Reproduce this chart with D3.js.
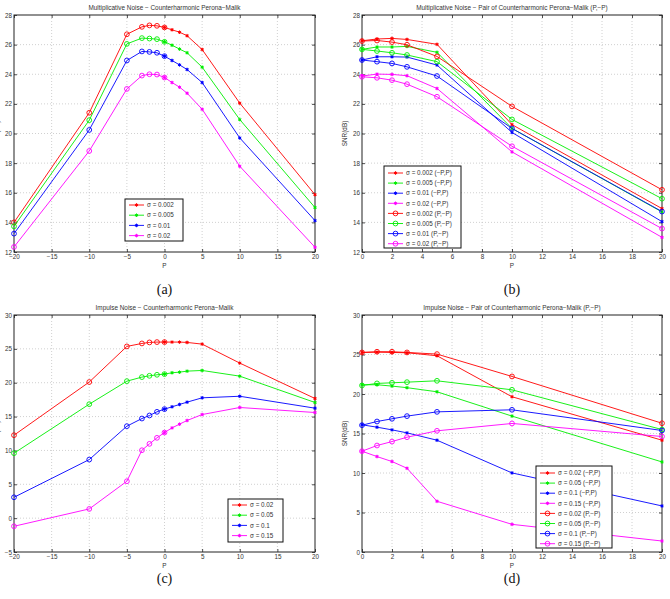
<!DOCTYPE html>
<html><head><meta charset="utf-8">
<script src="https://cdn.jsdelivr.net/npm/d3@7"></script>
<style>
body{margin:0;background:#fff;}
svg{display:block;font-family:"Liberation Sans",Arial,sans-serif;}
</style></head>
<body><svg id="c" width="670" height="599"></svg>
<script>
// ---- data ----
const pSym = [-20,-10,-5,-3,-2,-1,0,1,2,3,5,10,20];
const pPos = [0,1,2,3,5,10,20];
const ticksSym = [-20,-15,-10,-5,0,5,10,15,20];
const ticksPos = [0,2,4,6,8,10,12,14,16,18,20];

// (a) multiplicative noise, counterharmonic
const aS002 = [14.0,21.4,26.7,27.2,27.3,27.27,27.16,27.0,26.84,26.6,25.67,22.05,15.87];
const aS005 = [13.73,20.9,26.05,26.44,26.41,26.37,26.19,25.96,25.7,25.45,24.48,20.94,15.0];
const aS01  = [13.24,20.24,24.93,25.54,25.51,25.45,25.22,24.93,24.63,24.32,23.44,19.7,14.12];
const aS02  = [12.34,18.82,23.01,23.91,24.0,23.98,23.78,23.44,23.13,22.72,21.64,17.79,12.32];
const aLabels = ["σ = 0.002","σ = 0.005","σ = 0.01","σ = 0.02"];

// (b) multiplicative noise, pair
const bS002m = [26.26,26.38,26.42,26.35,26.02,20.6,14.93];
const bS005m = [25.68,25.84,25.84,25.88,25.48,20.34,14.7];
const bS01m  = [24.96,25.18,25.18,25.16,24.62,20.07,14.05];
const bS02m  = [23.88,24.01,23.99,23.9,23.04,18.76,12.99];
const bS002p = [26.24,26.28,26.17,25.99,25.2,21.83,16.2];
const bS005p = [25.68,25.57,25.45,25.3,24.85,20.95,15.6];
const bS01p  = [24.96,24.85,24.73,24.5,23.88,20.34,14.73];
const bS02p  = [23.83,23.76,23.6,23.33,22.48,19.14,13.58];
const bLabels = ["σ = 0.002 (−P,P)","σ = 0.005 (−P,P)","σ = 0.01 (−P,P)","σ = 0.02 (−P,P)",
                 "σ = 0.002 (P,−P)","σ = 0.005 (P,−P)","σ = 0.01 (P,−P)","σ = 0.02 (P,−P)"];

// (c) impulse noise, counterharmonic
const cS02 = [12.25,20.1,25.36,25.8,25.95,26.0,26.0,26.0,26.0,25.95,25.7,22.9,17.67];
const cS05 = [9.59,16.83,20.23,20.83,21.02,21.17,21.27,21.47,21.56,21.71,21.81,20.97,17.08];
const cS1  = [3.08,8.65,13.58,14.71,15.16,15.7,16.1,16.44,16.79,17.13,17.77,18.0,16.24];
const cS15 = [-1.2,1.36,5.45,10.03,10.97,11.86,12.64,13.33,13.88,14.42,15.3,16.34,15.6];
const cLabels = ["σ = 0.02","σ = 0.05","σ = 0.1","σ = 0.15"];

// (d) impulse noise, pair
const dS02m = [25.26,25.3,25.26,25.22,24.84,19.65,14.15];
const dS05m = [21.17,21.17,21.0,20.8,20.28,17.2,11.4];
const dS1m  = [16.1,15.8,15.46,15.08,14.15,10.01,5.83];
const dS15m = [12.76,12.08,11.45,10.6,6.42,3.5,1.39];
const dS02p = [25.26,25.35,25.35,25.26,25.05,22.22,16.3];
const dS05p = [21.08,21.34,21.42,21.5,21.67,20.53,15.5];
const dS1p  = [16.05,16.52,16.86,17.2,17.74,18.0,15.38];
const dS15p = [12.76,13.48,13.98,14.53,15.34,16.27,14.62];
const dLabels = ["σ = 0.02 (−P,P)","σ = 0.05 (−P,P)","σ = 0.1 (−P,P)","σ = 0.15 (−P,P)",
                 "σ = 0.02 (P,−P)","σ = 0.05 (P,−P)","σ = 0.1 (P,−P)","σ = 0.15 (P,−P)"];

const colors = ["#ff0000","#00ee00","#0000ff","#ff00ff"];

const svg = d3.select("#c");

function marker(g, x, y, col, type){
  if(type==="o"){
    g.append("circle").attr("cx",x).attr("cy",y).attr("r",2.4)
      .attr("fill","none").attr("stroke",col).attr("stroke-width",0.9);
  } else {
    g.append("path").attr("d",d3.symbol(d3.symbolAsterisk,9)())
      .attr("transform",`translate(${x},${y})`).attr("stroke",col).attr("stroke-width",0.9).attr("fill","none");
    g.append("circle").attr("cx",x).attr("cy",y).attr("r",1.2).attr("fill",col);
  }
}

function panel(o){
  const g = svg.append("g");
  const x = d3.scaleLinear().domain(o.xd).range([o.l,o.r]);
  const y = d3.scaleLinear().domain(o.yd).range([o.b,o.t]);
  // grid
  o.xt.forEach(v=>{ if(v!==o.xd[0]&&v!==o.xd[1]) g.append("line").attr("x1",x(v)).attr("x2",x(v)).attr("y1",o.t).attr("y2",o.b)
      .attr("stroke","#c4c4c4").attr("stroke-width",0.8).attr("stroke-dasharray","1,2");});
  o.yt.forEach(v=>{ if(v!==o.yd[0]&&v!==o.yd[1]) g.append("line").attr("y1",y(v)).attr("y2",y(v)).attr("x1",o.l).attr("x2",o.r)
      .attr("stroke","#c4c4c4").attr("stroke-width",0.8).attr("stroke-dasharray","1,2");});
  // axes
  const ax = g.append("g").attr("transform",`translate(0,${o.b})`)
    .call(d3.axisBottom(x).tickValues(o.xt).tickSize(-3).tickPadding(3).tickFormat(d=>d<0?"−"+(-d):d));
  const ay = g.append("g").attr("transform",`translate(${o.l},0)`)
    .call(d3.axisLeft(y).tickValues(o.yt).tickSize(-3).tickPadding(2).tickFormat(d=>d<0?"−"+(-d):d));
  const axT = g.append("g").attr("transform",`translate(0,${o.t})`)
    .call(d3.axisTop(x).tickValues(o.xt).tickSize(-3).tickFormat(""));
  const ayR = g.append("g").attr("transform",`translate(${o.r},0)`)
    .call(d3.axisRight(y).tickValues(o.yt).tickSize(-3).tickFormat(""));
  [ax,ay,axT,ayR].forEach(a=>{
    a.select(".domain").remove();
    a.selectAll("line").attr("stroke","#222").attr("stroke-width",0.8);
    a.selectAll("text").attr("font-size","6.3px").attr("fill","#333").attr("font-family","Liberation Sans, Arial, sans-serif");
  });
  g.append("rect").attr("x",o.l).attr("y",o.t).attr("width",o.r-o.l).attr("height",o.b-o.t)
    .attr("fill","none").attr("stroke","#222").attr("stroke-width",1);
  // title & labels
  g.append("text").attr("x",(o.l+o.r)/2).attr("y",o.t-5.5).attr("text-anchor","middle")
    .attr("font-size","6.4px").attr("fill","#333").text(o.title);
  g.append("text").attr("x",(o.l+o.r)/2).attr("y",o.b+16).attr("text-anchor","middle")
    .attr("font-size","6.4px").attr("fill","#333").text("P");
  g.append("text").attr("transform",`translate(${o.yl},${(o.t+o.b)/2}) rotate(-90)`).attr("text-anchor","middle")
    .attr("font-size","6.4px").attr("fill","#333").text("SNR(dB)");
  g.append("text").attr("x",(o.l+o.r)/2).attr("y",o.cap).attr("text-anchor","middle")
    .attr("font-family","Liberation Serif, DejaVu Serif, serif").attr("font-size","14px").attr("fill","#111").text(o.caption);
  // series
  const line = d3.line().x(d=>x(d[0])).y(d=>y(d[1]));
  o.series.forEach(s=>{
    const pts = s.xs.map((v,i)=>[v,s.ys[i]]);
    g.append("path").attr("d",line(pts)).attr("fill","none").attr("stroke",s.col).attr("stroke-width",0.9);
    pts.forEach(p=>{
      if(s.mk==="split"){
        if(p[0]<=0) marker(g,x(p[0]),y(p[1]),s.col,"o");
        if(p[0]>=0) marker(g,x(p[0]),y(p[1]),s.col,"*");
      } else marker(g,x(p[0]),y(p[1]),s.col,s.mk);
    });
  });
  // legend
  const L = o.leg;
  g.append("rect").attr("x",L.x).attr("y",L.y).attr("width",L.w).attr("height",L.h)
    .attr("fill","#fff").attr("stroke","#111").attr("stroke-width",1);
  o.series.forEach((s,i)=>{
    const yy = L.y + L.pad + i*L.step;
    g.append("line").attr("x1",L.x+4).attr("x2",L.x+19).attr("y1",yy).attr("y2",yy)
      .attr("stroke",s.col).attr("stroke-width",0.9);
    marker(g,L.x+11.5,yy,s.col,s.mk==="split"?"*":s.mk);
    g.append("text").attr("x",L.x+22).attr("y",yy+2.2).attr("font-size","6.3px").attr("fill","#333").text(s.label);
  });
}

panel({l:14,r:315,t:15,b:252,xd:[-20,20],yd:[12,28],xt:ticksSym,yt:d3.range(12,29,2),
  title:"Multiplicative Noise − Counterharmonic Perona−Malik",yl:-1,cap:294,caption:"(a)",
  leg:{x:125,y:199,w:58,h:42,pad:6,step:10.2},
  series:[aS002,aS005,aS01,aS02].map((ys,i)=>({xs:pSym,ys,col:colors[i],mk:"split",label:aLabels[i]}))});

panel({l:362,r:662,t:15,b:252,xd:[0,20],yd:[12,28],xt:ticksPos,yt:d3.range(12,29,2),
  title:"Multiplicative Noise − Pair of Counterharmonic Perona−Malik (P,−P)",yl:347,cap:294,caption:"(b)",
  leg:{x:384,y:166,w:77,h:82,pad:7,step:10.1},
  series:[bS002m,bS005m,bS01m,bS02m,bS002p,bS005p,bS01p,bS02p].map((ys,i)=>({xs:pPos,ys,col:colors[i%4],mk:i<4?"*":"o",label:bLabels[i]}))});

panel({l:14,r:315,t:315,b:552,xd:[-20,20],yd:[-5,30],xt:ticksSym,yt:d3.range(-5,31,5),
  title:"Impulse Noise − Counterharmonic Perona−Malik",yl:-1,cap:583,caption:"(c)",
  leg:{x:228,y:499,w:55,h:43,pad:6,step:10.2},
  series:[cS02,cS05,cS1,cS15].map((ys,i)=>({xs:pSym,ys,col:colors[i],mk:"split",label:cLabels[i]}))});

panel({l:362,r:662,t:315,b:552,xd:[0,20],yd:[0,30],xt:ticksPos,yt:d3.range(0,31,5),
  title:"Impulse Noise − Pair of Counterharmonic Perona−Malik (P,−P)",yl:347,cap:583,caption:"(d)",
  leg:{x:536,y:466,w:76,h:82,pad:7,step:10.1},
  series:[dS02m,dS05m,dS1m,dS15m,dS02p,dS05p,dS1p,dS15p].map((ys,i)=>({xs:pPos,ys,col:colors[i%4],mk:i<4?"*":"o",label:dLabels[i]}))});
</script></body></html>
